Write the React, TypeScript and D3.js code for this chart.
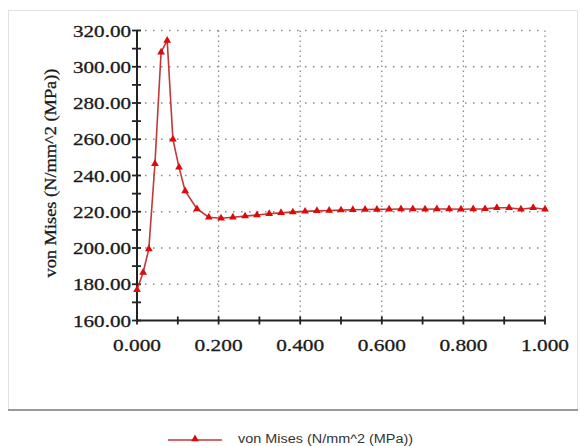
import React from "react";
import * as d3 from "d3";

const xValues = [0, 0.015, 0.029, 0.044, 0.059, 0.074, 0.088, 0.103, 0.118, 0.147, 0.176, 0.206, 0.235, 0.265, 0.294, 0.324, 0.353, 0.382, 0.412, 0.441, 0.471, 0.5, 0.529, 0.559, 0.588, 0.618, 0.647, 0.676, 0.706, 0.735, 0.765, 0.794, 0.824, 0.853, 0.882, 0.912, 0.941, 0.971, 1.0];
const vonMises = [177, 186.5, 199.5, 246.5, 308, 314.5, 260, 244.5, 231.5, 221.5, 217, 216.4, 217, 217.6, 218.2, 218.9, 219.4, 219.8, 220.2, 220.5, 220.7, 220.9, 221.1, 221.2, 221.3, 221.4, 221.5, 221.5, 221.4, 221.5, 221.5, 221.4, 221.5, 221.6, 222.2, 222.2, 221.4, 222.2, 221.4];
const yTicks = [160, 180, 200, 220, 240, 260, 280, 300, 320];
const xTicks = [0, 0.2, 0.4, 0.6, 0.8, 1.0];
const yTitle = "von Mises (N/mm^2 (MPa))";
const legendLabel = "von Mises (N/mm^2 (MPa))";

export default function App() {
  const x = d3.scaleLinear().domain([0, 1]).range([137, 545]);
  const y = d3.scaleLinear().domain([160, 320]).range([320.5, 30.5]);
  const data = xValues.map((v, i) => [v, vonMises[i]] as [number, number]);
  const line = d3.line<[number, number]>().x(d => x(d[0])).y(d => y(d[1]));
  const tri = d3.symbol().type(d3.symbolTriangle).size(26)() as string;
  const minorY = d3.range(160, 321, 10);
  const minorX = d3.range(0, 1.0001, 0.1);
  const serif = "'Liberation Serif', 'Times New Roman', serif";
  return (
    <svg width={580} height={446} style={{ position: "absolute", left: 0, top: 0, background: "#fff" }}>
      <rect x={8.5} y={10.5} width={569} height={400} fill="#fff" stroke="#e2e2e2" />
      <line x1={8} x2={578} y1={410} y2={410} stroke="#999" strokeWidth={2} />
      {/* grid */}
      {yTicks.filter(t => t > 160).map(t => (
        <line key={"gy" + t} x1={x(0)} x2={x(1)} y1={y(t)} y2={y(t)} stroke="#8a8a8a" strokeWidth={1.3} strokeDasharray="1.5 6.5" />
      ))}
      {xTicks.filter(t => t > 0).map(t => (
        <line key={"gx" + t} x1={x(t)} x2={x(t)} y1={y(320)} y2={y(160)} stroke="#8a8a8a" strokeWidth={1.3} strokeDasharray="1.5 3.5" />
      ))}
      {/* axes */}
      <line x1={x(0)} x2={x(0)} y1={y(320)} y2={y(160)} stroke="#222" strokeWidth={2} />
      <line x1={x(0)} x2={x(1)} y1={y(160)} y2={y(160)} stroke="#222" strokeWidth={2} />
      {minorY.map(t => (
        <line key={"ty" + t} x1={x(0) - 5} x2={x(0) + 4} y1={y(t)} y2={y(t)} stroke="#222" strokeWidth={1.8} />
      ))}
      {minorX.map(t => (
        <line key={"tx" + t} x1={x(t)} x2={x(t)} y1={y(160) - 4} y2={y(160) + 4} stroke="#222" strokeWidth={1.8} />
      ))}
      {yTicks.map(t => (
        <text key={"ly" + t} x={131} y={y(t) + 6} textAnchor="end" fontFamily={serif} fontSize={17} fill="#1a1a1a" stroke="#1a1a1a" strokeWidth={0.3} textLength={58} lengthAdjust="spacingAndGlyphs">
          {t.toFixed(2)}
        </text>
      ))}
      {xTicks.map(t => (
        <text key={"lx" + t} x={x(t)} y={351} textAnchor="middle" fontFamily={serif} fontSize={17} fill="#1a1a1a" stroke="#1a1a1a" strokeWidth={0.3} textLength={48} lengthAdjust="spacingAndGlyphs">
          {t.toFixed(3)}
        </text>
      ))}
      <text transform={`translate(56,173) rotate(-90)`} textAnchor="middle" fontFamily={serif} fontSize={17} fill="#1a1a1a" stroke="#1a1a1a" strokeWidth={0.3} textLength={209} lengthAdjust="spacingAndGlyphs">
        {yTitle}
      </text>
      {/* series */}
      <path d={line(data) as string} fill="none" stroke="#c0393a" strokeWidth={1.6} />
      {data.map((d, i) => (
        <path key={"m" + i} d={tri} transform={`translate(${x(d[0])},${y(d[1])})`} fill="#dd0a0a" />
      ))}
      {/* legend */}
      <line x1={168} x2={222} y1={440} y2={440} stroke="#c0393a" strokeWidth={1.5} />
      <path d={tri} transform="translate(195,439)" fill="#dd0a0a" />
      <text x={238} y={443} fontFamily="'Liberation Sans', Arial, sans-serif" fontSize={12} fill="#333" textLength={175} lengthAdjust="spacingAndGlyphs">
        {legendLabel}
      </text>
    </svg>
  );
}
